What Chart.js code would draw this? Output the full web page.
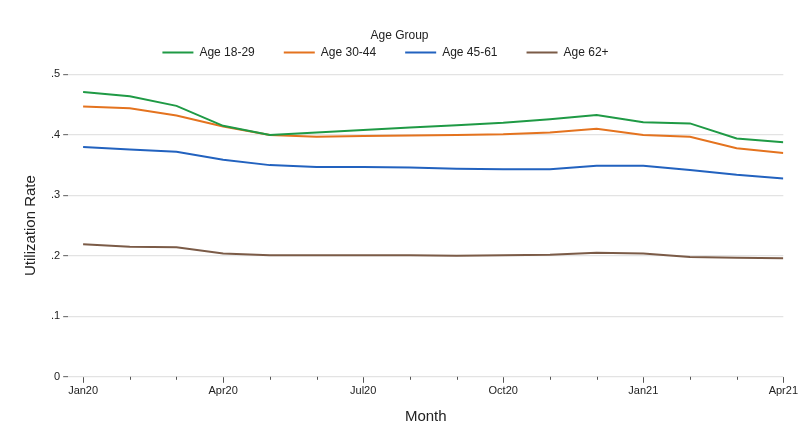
<!DOCTYPE html>
<html>
<head>
<meta charset="utf-8">
<script src="https://cdn.jsdelivr.net/npm/chart.js@4"></script>
<style>
  html, body { margin: 0; padding: 0; background: #fff; }
  #wrap { width: 800px; height: 444px; position: relative; }
</style>
</head>
<body>
<div id="wrap"><canvas id="myChart"></canvas></div>
<script>
// months shown on the x axis (labels only every quarter)
var months = ['Jan20','Feb20','Mar20','Apr20','May20','Jun20','Jul20','Aug20','Sep20','Oct20','Nov20','Dec20','Jan21','Feb21','Mar21','Apr21'];

var age1829 = [0.471, 0.464, 0.448, 0.415, 0.400, 0.404, 0.408, 0.412, 0.416, 0.420, 0.426, 0.433, 0.421, 0.419, 0.394, 0.388];
var age3044 = [0.447, 0.444, 0.432, 0.414, 0.400, 0.397, 0.398, 0.399, 0.400, 0.401, 0.404, 0.410, 0.400, 0.397, 0.378, 0.370];
var age4561 = [0.380, 0.376, 0.372, 0.359, 0.350, 0.347, 0.347, 0.346, 0.344, 0.343, 0.343, 0.349, 0.349, 0.342, 0.334, 0.328];
var age62 = [0.219, 0.215, 0.214, 0.204, 0.201, 0.201, 0.201, 0.201, 0.200, 0.201, 0.202, 0.205, 0.204, 0.198, 0.197, 0.196];

var yTicks = [0, 0.1, 0.2, 0.3, 0.4, 0.5];

function pts(arr){
    return arr.map(function(v, i){ return {x: i, y: v}; });
}

// short ticks for the months without a label
var minorTicks = {
    id: 'minorTicks',
    afterDraw: function(chart){
        var xs = chart.scales.x, ctx = chart.ctx;
        var y0 = chart.chartArea.bottom;
        ctx.save();
        ctx.strokeStyle = '#555';
        ctx.lineWidth = 1;
        for (var i = 0; i < months.length; i++){
            if (i % 3 === 0) continue;
            var px = Math.round(xs.getPixelForValue(i)) + 0.5;
            ctx.beginPath();
            ctx.moveTo(px, y0);
            ctx.lineTo(px, y0 + 3);
            ctx.stroke();
        }
        ctx.restore();
    }
};

// legend: a bit more room below it, and pulled a little to the left
var legendTweak = {
    id: 'legendTweak',
    beforeInit: function(chart){
        var lg = chart.legend;
        var fit = lg.fit;
        lg.fit = function(){
            fit.apply(lg, arguments);
            lg.height += 6;
        };
        var draw = lg.draw;
        lg.draw = function(){
            lg.left -= 24; lg.right -= 24;
            draw.apply(lg, arguments);
            lg.left += 24; lg.right += 24;
        };
        ['drawTitle', '_drawTitle'].forEach(function(name){
            if (typeof lg[name] !== 'function') return;
            var orig = lg[name];
            lg[name] = function(){
                lg.left += 14; lg.right += 14;
                orig.apply(lg, arguments);
                lg.left -= 14; lg.right -= 14;
            };
        });
    }
};

var font = "'Liberation Sans', Arial, sans-serif";
Chart.defaults.font.family = font;
Chart.defaults.color = '#222';

var ctx = document.getElementById('myChart').getContext('2d');
var chart = new Chart(ctx, {
    type: 'line',
    data: {
        datasets: [{
            label: 'Age 18-29',
            data: pts(age1829),
            borderColor: '#1f9a45',
            backgroundColor: '#1f9a45',
            borderWidth: 2
        }, {
            label: 'Age 30-44',
            data: pts(age3044),
            borderColor: '#e4731f',
            backgroundColor: '#e4731f',
            borderWidth: 2
        }, {
            label: 'Age 45-61',
            data: pts(age4561),
            borderColor: '#2262bf',
            backgroundColor: '#2262bf',
            borderWidth: 2
        }, {
            label: 'Age 62+',
            data: pts(age62),
            borderColor: '#7b5b47',
            backgroundColor: '#7b5b47',
            borderWidth: 2
        }]
    },
    options: {
        responsive: true,
        maintainAspectRatio: false,
        animation: false,
        elements: {
            line: { borderWidth: 2, tension: 0, fill: false },
            point: { radius: 0 }
        },
        layout: { padding: { top: 30, right: 3, bottom: 18, left: 22 } },
        plugins: {
            tooltip: { enabled: false },
            legend: {
                position: 'top',
                title: {
                    display: true,
                    text: 'Age Group',
                    color: '#222',
                    font: { size: 12 },
                    padding: { top: 0, bottom: -27 }
                },
                labels: {
                    usePointStyle: true,
                    pointStyle: 'line',
                    pointStyleWidth: 31,
                    boxWidth: 31,
                    padding: 29,
                    font: { size: 12 },
                    color: '#222'
                }
            }
        },
        scales: {
            x: {
                type: 'linear',
                min: -0.32,
                max: 15,
                afterBuildTicks: function(axis){
                    axis.ticks = months.map(function(m, i){ return {value: i}; });
                },
                ticks: {
                    autoSkip: false,
                    maxRotation: 0,
                    padding: 2,
                    font: { size: 11 },
                    color: '#222',
                    callback: function(v){
                        return (v % 3 === 0) ? months[v] : '';
                    }
                },
                grid: {
                    drawOnChartArea: false,
                    drawTicks: true,
                    tickLength: 6,
                    tickColor: function(c){
                        return (c.tick && c.tick.value % 3 === 0) ? '#555' : 'rgba(0,0,0,0)';
                    }
                },
                border: { display: false },
                title: {
                    display: true,
                    text: 'Month',
                    font: { size: 15 },
                    color: '#222',
                    padding: { top: 8, bottom: 0 }
                }
            },
            y: {
                min: 0,
                max: 0.5,
                afterBuildTicks: function(axis){
                    axis.ticks = yTicks.map(function(v){ return {value: v}; });
                },
                ticks: {
                    padding: 3,
                    font: { size: 11 },
                    color: '#222',
                    callback: function(v){
                        return v === 0 ? '0' : v.toFixed(1).replace('0.', '.');
                    }
                },
                grid: {
                    color: '#e3e3e3',
                    lineWidth: 1.2,
                    tickColor: '#777',
                    tickLength: 5
                },
                border: { display: false },
                title: {
                    display: true,
                    text: 'Utilization Rate',
                    font: { size: 15 },
                    color: '#222',
                    padding: { top: 0, bottom: 8 }
                }
            }
        }
    },
    plugins: [minorTicks, legendTweak]
});
</script>
</body>
</html>
